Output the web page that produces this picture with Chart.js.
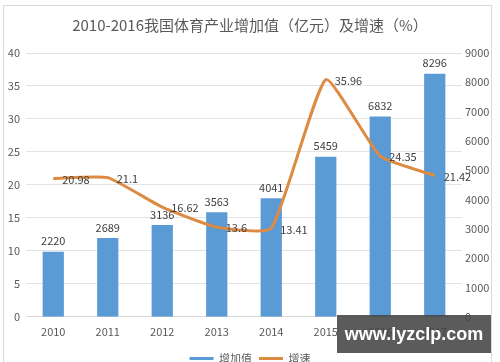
<!DOCTYPE html>
<html>
<head>
<meta charset="utf-8">
<script src="https://cdn.jsdelivr.net/npm/chart.js@4.4.1/dist/chart.umd.min.js"></script>
<style>
    html, body { margin: 0; padding: 0; background: #fff; overflow: hidden; }
    #wrap { position: relative; width: 500px; height: 362px; overflow: hidden; }
    #frame { position: absolute; left: 3px; top: 5px; width: 487px; height: 400px; border: 1px solid #d9d9d9; }
    #revenueChart { position: absolute; left: 0; top: 0; }
    #mark {
        position: absolute; left: 337px; top: 315px; width: 154px; height: 38px; overflow: hidden;
        background: rgba(68, 68, 68, 0.88); color: #fff;
        font: bold 18px "Liberation Sans", sans-serif; line-height: 38px; text-align: center;
    }
</style>
</head>
<body>
<div id="wrap">
    <div id="frame"></div>
    <canvas id="revenueChart" width="500" height="375"></canvas>
    <div id="mark">www.lyzclp.com</div>
</div>
<script>
const years = ['2010', '2011', '2012', '2013', '2014', '2015', '2016', '2017'];
const addedValue = [2220, 2689, 3136, 3563, 4041, 5459, 6832, 8296];   // 增加值（亿元）
const growthRate = [20.98, 21.1, 16.62, 13.6, 13.41, 35.96, 24.35, 21.42]; // 增速（%）

const blue = '#5b9bd5';
const orange = '#dd8a42';
const textColor = '#595959';
const font = '"Noto Sans CJK SC", "Noto Sans", sans-serif';

// draws the value labels: bars above, line points to the right
const valueLabels = {
    id: 'valueLabels',
    afterDatasetsDraw(chart) {
        const ctx = chart.ctx;
        ctx.save();
        ctx.font = '11px ' + font;
        ctx.fillStyle = '#404040';
        chart.data.datasets.forEach((ds, i) => {
            const meta = chart.getDatasetMeta(i);
            meta.data.forEach((el, j) => {
                if (ds.type === 'bar') {
                    ctx.textAlign = 'center';
                    ctx.textBaseline = 'bottom';
                    ctx.fillText(ds.data[j], el.x, el.y - 5);
                } else {
                    ctx.textAlign = 'left';
                    ctx.textBaseline = 'middle';
                    ctx.fillText(ds.data[j], el.x + 9, el.y + 1);
                }
            });
        });
        ctx.restore();
    }
};

const ctx = document.getElementById('revenueChart').getContext('2d');
new Chart(ctx, {
    data: {
        labels: years,
        datasets: [{
            type: 'line',
            label: '增速',
            data: growthRate,
            yAxisID: 'y',
            borderColor: orange,
            borderWidth: 3,
            pointRadius: 0,
            tension: 0.15,
            order: 0
        }, {
            type: 'bar',
            label: '增加值',
            data: addedValue,
            yAxisID: 'y1',
            backgroundColor: blue,
            categoryPercentage: 0.78,
            barPercentage: 0.5,
            order: 1
        }]
    },
    options: {
        responsive: false,
        animation: false,
        layout: { padding: { left: 0, right: 0, bottom: 1 } },
        plugins: {
            title: {
                display: true,
                text: '2010-2016我国体育产业增加值（亿元）及增速（%）',
                color: textColor,
                font: { family: font, size: 15, weight: 'normal' },
                padding: { top: 16, bottom: 19 }
            },
            legend: {
                position: 'bottom',
                labels: {
                    color: textColor,
                    font: { family: font, size: 11 },
                    usePointStyle: true,
                    pointStyleWidth: 24,
                    padding: 7,
                    generateLabels: () => [
                        { text: '增加值', pointStyle: 'line', strokeStyle: blue, fillStyle: blue, lineWidth: 3, fontColor: textColor },
                        { text: '增速', pointStyle: 'line', strokeStyle: orange, fillStyle: orange, lineWidth: 3, fontColor: textColor }
                    ]
                }
            },
            tooltip: { enabled: false }
        },
        scales: {
            x: {
                grid: { display: false, drawTicks: false },
                border: { color: '#d9d9d9' },
                ticks: { color: textColor, font: { family: font, size: 11 }, padding: 8 }
            },
            y: {
                position: 'left',
                min: 0, max: 40,
                ticks: { stepSize: 5, color: textColor, font: { family: font, size: 11 }, padding: 6 },
                grid: { color: '#e3e3e3', drawTicks: false },
                border: { display: false },
                afterFit(scale) { scale.width = 26; }
            },
            y1: {
                position: 'right',
                min: 0, max: 9000,
                ticks: {
                    stepSize: 1000, color: textColor, font: { family: font, size: 11 }, padding: 3,
                    callback: v => String(v)
                },
                grid: { display: false, drawTicks: false },
                border: { display: false },
                afterFit(scale) { scale.width = 38; }
            }
        }
    },
    plugins: [valueLabels]
});
</script>
</body>
</html>
